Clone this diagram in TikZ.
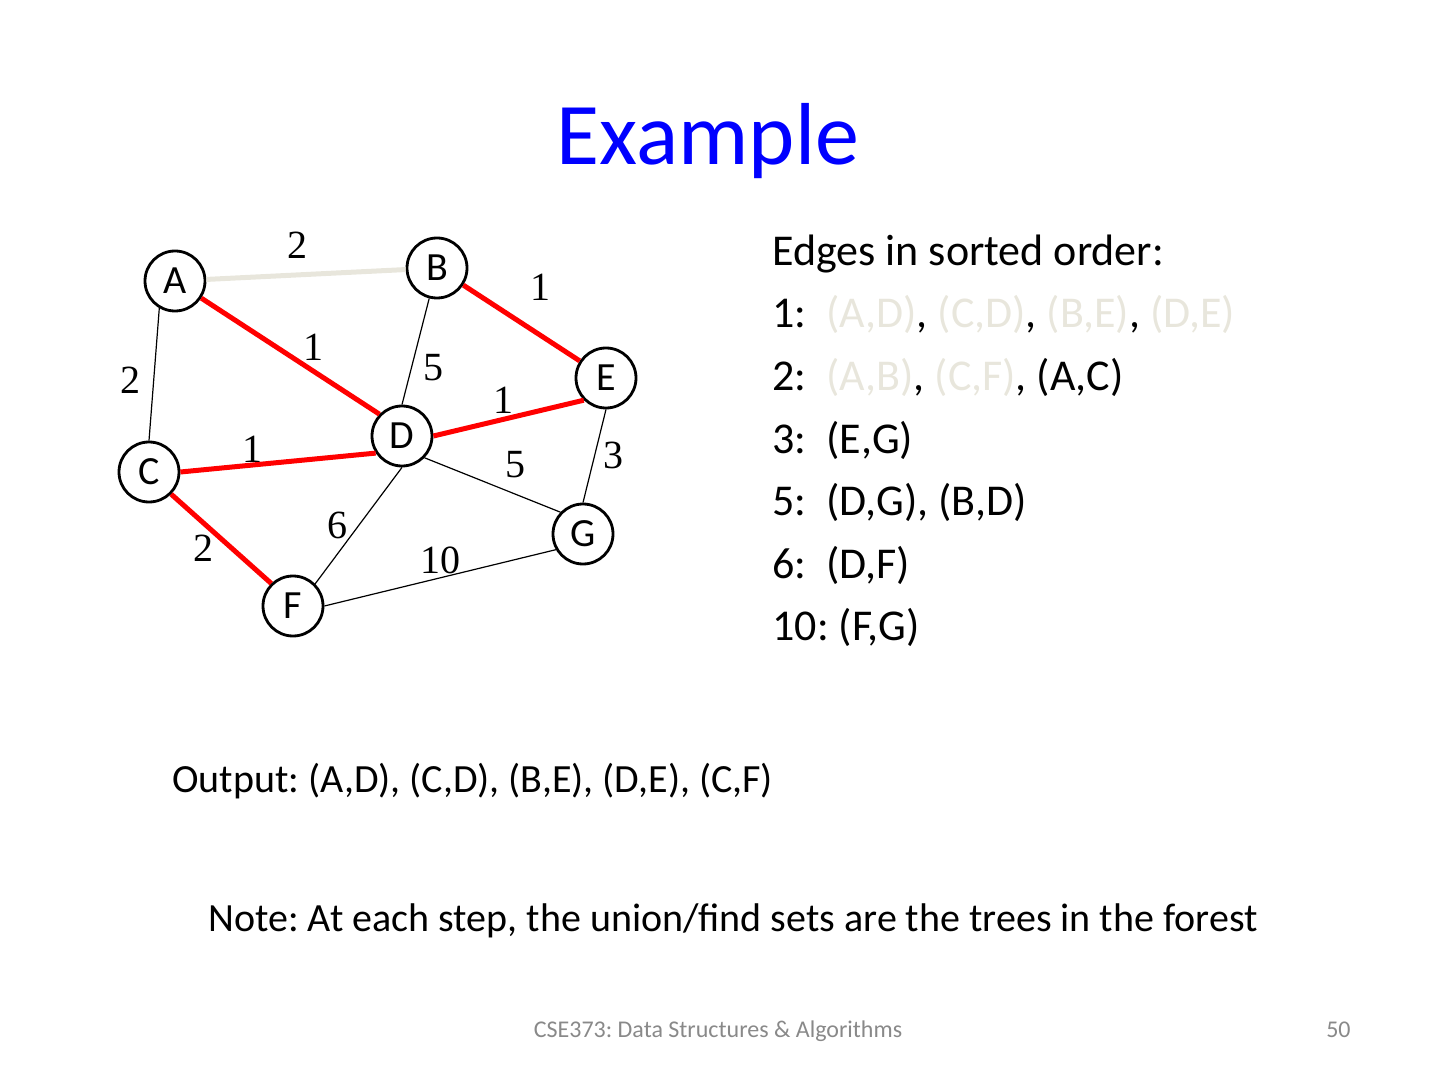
\documentclass[tikz,border=0pt]{standalone}
\usepackage{fontspec}
\setmainfont{Carlito}
\newfontfamily\weightfont{Liberation Serif}
\usetikzlibrary{positioning}
\definecolor{titleblue}{RGB}{0,0,255}
\definecolor{doneedge}{RGB}{232,230,220}
\definecolor{footgray}{RGB}{137,137,137}
\frenchspacing

\begin{document}
\begin{tikzpicture}[x=0.5pt, y=-0.5pt,
    vertex/.style={circle, draw, line width=1.4pt, fill=white, minimum size=30pt, inner sep=0pt, font=\fontsize{20}{22}\selectfont},
    weight/.style={font=\weightfont\fontsize{20}{22}\selectfont, inner sep=0pt},
    plain edge/.style={line width=0.6pt},
    tree edge/.style={red, line width=2.5pt},
    skipped edge/.style={doneedge, line width=2.5pt},
    body/.style={font=\fontsize{20}{24}\selectfont, anchor=base west, inner sep=0pt},
    listline/.style={body, font=\fontsize{22}{26}\selectfont}]
  \useasboundingbox (0,0) rectangle (1440,1080);

  % title
  \node[titleblue, font=\fontsize{44}{50}\selectfont, anchor=base, inner sep=0pt] (title) at (708,165) {Example};

  % graph
  \node[vertex] (a) at (175,281) {A};
  \node[vertex] (b) at (437,268) {B};
  \node[vertex] (e) at (606,378) {E};
  \node[vertex] (d) at (402,436) {D};
  \node[vertex] (c) at (149,472) {C};
  \node[vertex] (g) at (583,534) {G};
  \node[vertex] (f) at (293,606) {F};

  \draw[skipped edge] (a) -- (b);
  \draw[tree edge] (b) -- (e);
  \draw[tree edge] (a) -- (d.136);
  \draw[plain edge] (b) -- (d.north);
  \draw[plain edge] (a.240) -- (c.north);
  \draw[tree edge] (d.east) -- (e.225);
  \draw[tree edge] (c.east) -- (d.213);
  \draw[plain edge] (e.south) -- (g.north);
  \draw[plain edge] (d.316) -- (g.136);
  \draw[plain edge] (d.south) -- (f.45);
  \draw[tree edge] (c.315) -- (f.134);
  \draw[plain edge] (f.east) -- (g.210);

  % weights
  \node[weight] (w-ab) at (297,245) {2};
  \node[weight] (w-be) at (540,287) {1};
  \node[weight] (w-ad) at (313,347) {1};
  \node[weight] (w-bd) at (433,368) {5};
  \node[weight] (w-ac) at (130,380) {2};
  \node[weight] (w-de) at (503,400) {1};
  \node[weight] (w-cd) at (252,449) {1};
  \node[weight] (w-eg) at (613,455) {3};
  \node[weight] (w-dg) at (515,465) {5};
  \node[weight] (w-df) at (337,525) {6};
  \node[weight] (w-cf) at (203,548) {2};
  \node[weight] (w-fg) at (440,560) {10};

  % sorted edges
  \node[listline] (head) at (772,266) {Edges in sorted order:};
  \node[listline] (row1) at (772,328) {1:\ \ \textcolor{doneedge}{(A,D)}, \textcolor{doneedge}{(C,D)}, \textcolor{doneedge}{(B,E)}, \textcolor{doneedge}{(D,E)}};
  \node[listline] (row2) at (772,391) {2:\ \ \textcolor{doneedge}{(A,B)}, \textcolor{doneedge}{(C,F)}, (A,C)};
  \node[listline] (row3) at (772,453) {3:\ \ (E,G)};
  \node[listline] (row5) at (772,516) {5:\ \ (D,G), (B,D)};
  \node[listline] (row6) at (772,578) {6:\ \ (D,F)};
  \node[listline] (row10) at (772,640) {10: (F,G)};

  \node[body] (output) at (172,792) {Output: (A,D), (C,D), (B,E), (D,E), (C,F)};
  \node[body, anchor=base] (note) at (733,931) {Note: At each step, the union/find sets are the trees in the forest};

  % footer
  \node[footgray, font=\fontsize{12}{14}\selectfont, anchor=base, inner sep=0pt] (course) at (718,1037) {CSE373: Data Structures \& Algorithms};
  \node[footgray, font=\fontsize{12}{14}\selectfont, anchor=base east, inner sep=0pt] (page) at (1351,1037) {50};
\end{tikzpicture}
\end{document}
